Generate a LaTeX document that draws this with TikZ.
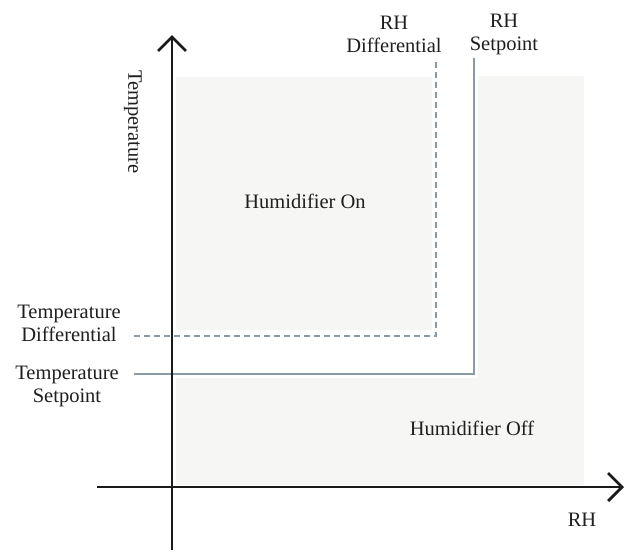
\documentclass[tikz,border=0pt]{standalone}
\usepackage{fontspec}
\setmainfont{Liberation Serif}
\usetikzlibrary{arrows.meta}
\definecolor{regiongray}{HTML}{F6F6F4}
\definecolor{setline}{HTML}{8A9BA5}
\definecolor{axisblack}{HTML}{1A1A1A}
\tikzset{
  lbl/.style={font=\fontsize{20.5}{23}\selectfont, text=black!88, align=center, inner sep=0pt},
  axisline/.style={draw=axisblack, line width=2.7pt},
  axistip/.style={-{Straight Barb[length=14pt,width=28pt,line width=2.7pt]}},
  spline/.style={draw=setline, line width=2.4pt},
  diffline/.style={draw=setline, line width=2.4pt, dash pattern=on 6pt off 4pt},
  region/.style={fill=regiongray, draw=none}
}
\begin{document}
\begin{tikzpicture}[x=1pt,y=-1pt]
\useasboundingbox (0,0) rectangle (633,557);
% regions
\fill[region] (176,77) rectangle (432,330);
\fill[region] (176,378) -- (478,378) -- (478,76) -- (584,76) -- (584,485) -- (176,485) -- cycle;
% labels
\node[lbl] (rhd) at (394,34) {RH\\Differential};
\node[lbl] (rhs) at (504,34) {RH\\Setpoint};
\node[lbl] (td) at (69,323) {Temperature\\Differential};
\node[lbl] (ts) at (67,386) {Temperature\\Setpoint};
\node[lbl, rotate=-90] (tempax) at (133,122) {Temperature};
\node[lbl] (hon) at (305,201) {Humidifier On};
\node[lbl] (hoff) at (472,428) {Humidifier Off};
\node[lbl] (rhax) at (582,520) {RH};
% corner coordinates
\coordinate (dcorner) at (436,336);
\coordinate (scorner) at (474,374);
\coordinate (dtop) at (436,58);
\coordinate (stop) at (474,58);
\coordinate (dleft) at (134,336);
\coordinate (sleft) at (134,374);
% setpoint and differential lines
\draw[diffline] (dleft) -- (dcorner) -- (dtop);
\draw[spline] (sleft) -- (scorner) -- (stop);
% axes
\coordinate (ybot) at (172,550);
\coordinate (ytop) at (172,35);
\coordinate (xleft) at (97,487);
\coordinate (xright) at (624,487);
\draw[axisline, axistip] (ybot) -- (ytop);
\draw[axisline, axistip] (xleft) -- (xright);
\end{tikzpicture}
\end{document}
